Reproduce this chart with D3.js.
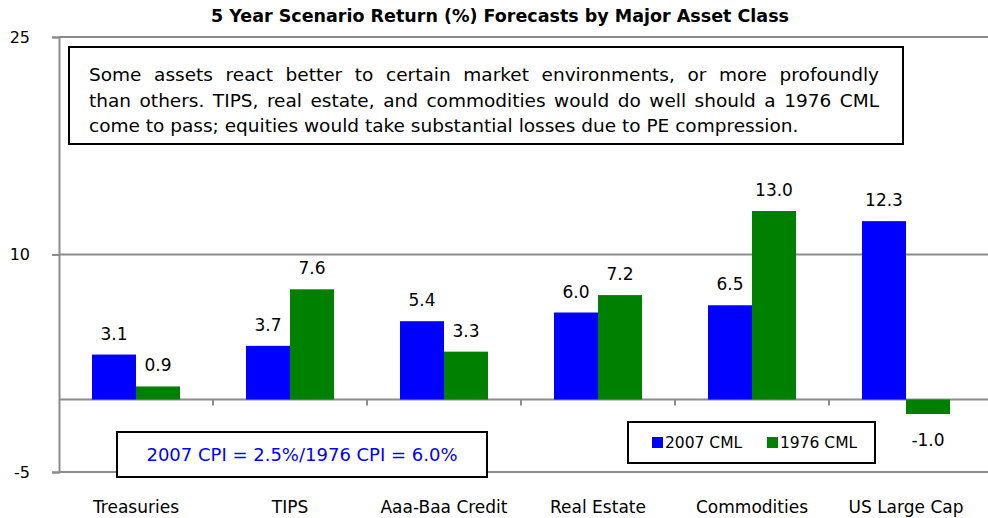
<!DOCTYPE html>
<html>
<head>
<meta charset="utf-8">
<script src="https://cdn.jsdelivr.net/npm/d3@7/dist/d3.min.js"></script>
<style>
  html, body { margin: 0; padding: 0; background: #fff; }
  svg { display: block; font-family: "DejaVu Sans", Verdana, sans-serif; }
</style>
</head>
<body>
<svg id="chart" width="988" height="518"></svg>
<script>
const categories = ["Treasuries", "TIPS", "Aaa-Baa Credit", "Real Estate", "Commodities", "US Large Cap"];
const seriesNames = ["2007 CML", "1976 CML"];
const values2007 = [3.1, 3.7, 5.4, 6.0, 6.5, 12.3];
const values1976 = [0.9, 7.6, 3.3, 7.2, 13.0, -1.0];
const yTicks = [-5, 10, 25];
const colors = ["#0000FF", "#008000"];
const title = "5 Year Scenario Return (%) Forecasts by Major Asset Class";
const noteLines = [
  "Some assets react better to certain market environments, or more profoundly",
  "than others. TIPS, real estate, and commodities would do well should a 1976 CML",
  "come to pass; equities would take substantial losses due to PE compression."
];
const cpiNote = "2007 CPI = 2.5%/1976 CPI = 6.0%";

const svg = d3.select("#chart");
const mLeft = 59, mRight = 983, mTop = 37, mBottom = 472;

const x = d3.scaleBand().domain(categories).range([mLeft, mRight]).paddingInner(0).paddingOuter(0);
const y = d3.scaleLinear().domain([-5, 25]).range([mBottom, mTop]);
const inner = d3.scaleBand().domain(seriesNames).range([0, x.bandwidth()]).paddingInner(0).paddingOuter(0.75);

const grey = "#8c8c8c";
const fmt1 = v => v.toFixed(1);

// Title
svg.append("text").attr("x", 500).attr("y", 22).attr("text-anchor", "middle")
  .attr("font-size", 17.5).attr("font-weight", "bold").attr("fill", "#000")
  .text(title);

// Gridlines
svg.append("g").selectAll("line").data(yTicks).join("line")
  .attr("x1", mLeft).attr("x2", 988).attr("y1", d => y(d)).attr("y2", d => y(d))
  .attr("stroke", grey).attr("stroke-width", 2);

// Left axis
const yAxis = d3.axisLeft(y).tickValues(yTicks).tickSize(7).tickPadding(22).tickFormat(d => String(d));
const gy = svg.append("g").attr("transform", `translate(${mLeft},0)`).call(yAxis);
gy.select(".domain").attr("stroke", grey).attr("stroke-width", 2);
gy.selectAll(".tick line").attr("stroke", grey).attr("stroke-width", 2);
gy.selectAll(".tick text").attr("font-size", 16).attr("fill", "#000")
  .attr("font-family", "DejaVu Sans, sans-serif");

// Zero axis with tick marks at category boundaries
svg.append("line").attr("x1", mLeft).attr("x2", 988).attr("y1", y(0)).attr("y2", y(0))
  .attr("stroke", grey).attr("stroke-width", 2);
svg.append("g").selectAll("line").data(categories.slice(1)).join("line")
  .attr("x1", d => x(d)).attr("x2", d => x(d)).attr("y1", y(0)).attr("y2", y(0) + 6)
  .attr("stroke", grey).attr("stroke-width", 2);

// Bars
const data = categories.map((c, i) => ({ c, vals: [values2007[i], values1976[i]] }));
const groups = svg.append("g").selectAll("g").data(data).join("g")
  .attr("transform", d => `translate(${x(d.c)},0)`);
groups.selectAll("rect").data(d => d.vals.map((v, j) => ({ v, s: seriesNames[j], j }))).join("rect")
  .attr("x", d => inner(d.s)).attr("width", inner.bandwidth())
  .attr("y", d => y(Math.max(0, d.v))).attr("height", d => Math.abs(y(d.v) - y(0)))
  .attr("fill", d => colors[d.j]);
groups.selectAll("text").data(d => d.vals.map((v, j) => ({ v, s: seriesNames[j], j }))).join("text")
  .attr("x", d => inner(d.s) + inner.bandwidth() / 2)
  .attr("y", d => d.v >= 0 ? y(d.v) - 15 : y(d.v) + 32)
  .attr("text-anchor", "middle").attr("font-size", 17).attr("fill", "#000")
  .text(d => fmt1(d.v));

// X labels
svg.append("g").selectAll("text").data(categories).join("text")
  .attr("x", d => x(d) + x.bandwidth() / 2).attr("y", 513)
  .attr("text-anchor", "middle").attr("font-size", 17).attr("fill", "#000").text(d => d);

// Note box
svg.append("rect").attr("x", 69).attr("y", 47).attr("width", 834).attr("height", 97)
  .attr("fill", "#fff").attr("stroke", "#000").attr("stroke-width", 2);
const noteG = svg.append("g");
noteLines.forEach((line, i) => {
  const t = noteG.append("text").attr("x", 89).attr("y", 81 + i * 25.5)
    .attr("font-size", 18.5).attr("fill", "#000").text(line);
  if (i < noteLines.length - 1) {
    const w = t.node().getComputedTextLength();
    const spaces = (line.match(/ /g) || []).length;
    const target = 879 - 89;
    t.attr("word-spacing", (target - w) / spaces);
  }
});

// CPI box
svg.append("rect").attr("x", 117).attr("y", 432).attr("width", 370).attr("height", 45)
  .attr("fill", "#fff").attr("stroke", "#000").attr("stroke-width", 2);
svg.append("text").attr("x", 302).attr("y", 461).attr("text-anchor", "middle")
  .attr("font-size", 18).attr("fill", "#0000FF").text(cpiNote);

// Legend
svg.append("rect").attr("x", 628).attr("y", 422).attr("width", 247).attr("height", 41)
  .attr("fill", "#fff").attr("stroke", "#000").attr("stroke-width", 2);
const legX = [652, 767];
seriesNames.forEach((s, i) => {
  svg.append("rect").attr("x", legX[i]).attr("y", 437).attr("width", 11).attr("height", 11).attr("fill", colors[i]);
  svg.append("text").attr("x", legX[i] + 13).attr("y", 448).attr("font-size", 15.5).attr("fill", "#000").text(s);
});
</script>
</body>
</html>
